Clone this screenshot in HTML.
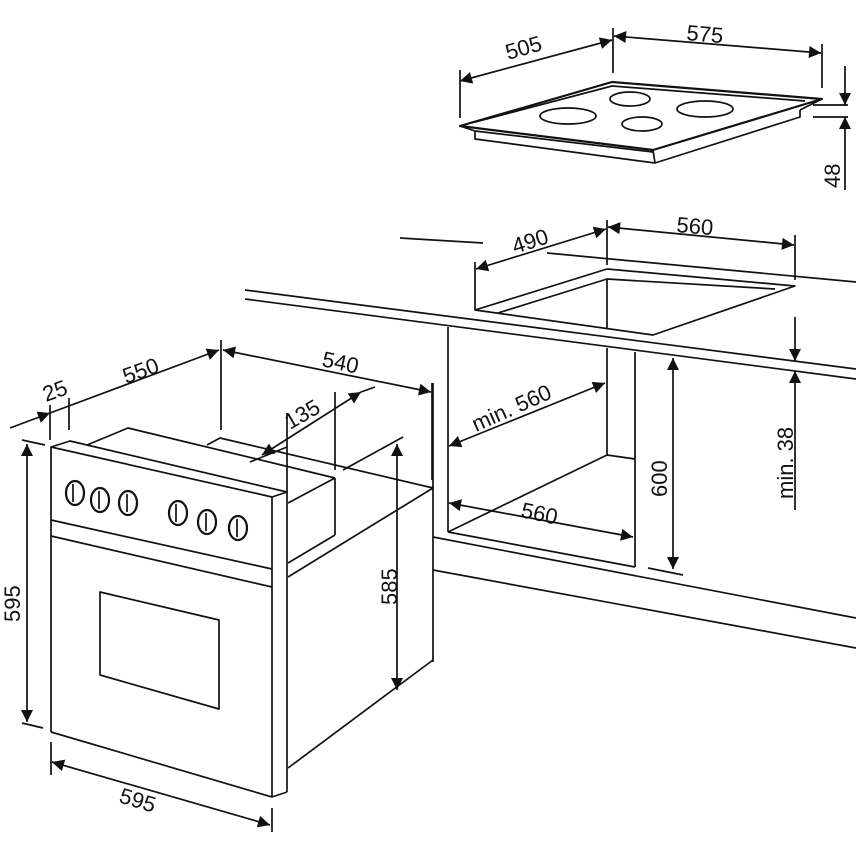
<!DOCTYPE html>
<html><head><meta charset="utf-8"><style>
html,body{margin:0;padding:0;background:#fff;width:856px;height:856px;overflow:hidden}
svg{display:block}
text{font-family:"Liberation Sans",sans-serif;font-size:22px;fill:#111}
</style></head><body>
<svg width="856" height="856" viewBox="0 0 856 856" xmlns="http://www.w3.org/2000/svg">
<defs>
<marker id="a" viewBox="0 0 10 10" refX="10" refY="5" markerWidth="22" markerHeight="12" markerUnits="userSpaceOnUse" orient="auto-start-reverse"><path d="M0,0L10,5L0,10z" fill="#111"/></marker>
</defs>
<g stroke="#111" stroke-width="1.7" fill="none" stroke-linejoin="round">
<!-- HOB -->
<polygon points="460,126 612,82 822,99 653,150" stroke-width="2.2"/>
<polyline points="475,122 612,86 805,101"/>
<line x1="460" y1="126" x2="475" y2="131"/>
<line x1="475" y1="131" x2="653" y2="152"/>
<line x1="653" y1="150" x2="655" y2="163"/>
<line x1="822" y1="99" x2="800" y2="110"/>
<polyline points="475,131 475,139 655,163 800,117 800,110"/>
<ellipse cx="568" cy="116" rx="28" ry="8"/>
<ellipse cx="630" cy="99" rx="20" ry="7"/>
<ellipse cx="705" cy="109" rx="28" ry="8"/>
<ellipse cx="642" cy="124" rx="20" ry="7"/>
<line x1="460" y1="70" x2="460" y2="118"/>
<line x1="613" y1="28" x2="613" y2="73"/>
<line x1="822" y1="44" x2="822" y2="88"/>
<line x1="460" y1="81" x2="612" y2="40" marker-start="url(#a)" marker-end="url(#a)"/>
<line x1="614" y1="36" x2="821" y2="53" marker-start="url(#a)" marker-end="url(#a)"/>
<line x1="813" y1="105" x2="848" y2="105"/>
<line x1="813" y1="117" x2="848" y2="117"/>
<line x1="845" y1="66" x2="845" y2="105" marker-end="url(#a)"/>
<line x1="845" y1="190" x2="845" y2="117" marker-end="url(#a)"/>
<!-- COUNTER -->
<line x1="245" y1="290" x2="856" y2="369"/>
<line x1="245" y1="299" x2="856" y2="379"/>
<line x1="547" y1="253" x2="856" y2="282"/>
<line x1="400" y1="238" x2="483" y2="243"/>
<polygon points="475,310 607,269 795,286 653,335"/>
<polyline points="498,313 607,279 775,289"/>
<line x1="607" y1="279" x2="607" y2="328"/>
<line x1="475" y1="262" x2="475" y2="310"/>
<line x1="607" y1="220" x2="607" y2="265"/>
<line x1="795" y1="235" x2="795" y2="280"/>
<line x1="476" y1="269" x2="606" y2="229" marker-start="url(#a)" marker-end="url(#a)"/>
<line x1="608" y1="227" x2="794" y2="245" marker-start="url(#a)" marker-end="url(#a)"/>
<!-- CABINET -->
<line x1="448" y1="327" x2="448" y2="532"/>
<line x1="607" y1="348" x2="607" y2="455"/>
<line x1="635" y1="352" x2="635" y2="567"/>
<line x1="448" y1="532" x2="635" y2="567"/>
<line x1="448" y1="532" x2="607" y2="455"/>
<line x1="607" y1="455" x2="635" y2="459"/>
<line x1="433" y1="537" x2="856" y2="618"/>
<line x1="433" y1="570" x2="856" y2="648"/>
<line x1="433" y1="383" x2="433" y2="662"/>
<line x1="449" y1="446" x2="605" y2="383" marker-start="url(#a)" marker-end="url(#a)"/>
<line x1="449" y1="503" x2="633" y2="537" marker-start="url(#a)" marker-end="url(#a)"/>
<line x1="673" y1="358" x2="673" y2="569" marker-start="url(#a)" marker-end="url(#a)"/>
<line x1="648" y1="568" x2="683" y2="575"/>
<line x1="795" y1="317" x2="795" y2="361" marker-end="url(#a)"/>
<line x1="795" y1="510" x2="795" y2="371" marker-end="url(#a)"/>
<!-- OVEN -->
<polygon points="51,447 70,441 287,492 272,497"/>
<line x1="51" y1="447" x2="51" y2="732"/>
<line x1="272" y1="497" x2="272" y2="797"/>
<line x1="287" y1="492" x2="287" y2="792"/>
<line x1="51" y1="732" x2="272" y2="797"/>
<line x1="272" y1="797" x2="287" y2="792"/>
<line x1="51" y1="520" x2="272" y2="569"/>
<line x1="51" y1="536" x2="272" y2="587"/>
<polygon points="100,592 219,620 219,709 100,675"/>
<g stroke-width="2.2">
<ellipse cx="75" cy="493" rx="9" ry="12"/><ellipse cx="100" cy="500" rx="9" ry="12"/><ellipse cx="128" cy="503" rx="9" ry="12"/>
<ellipse cx="178" cy="513" rx="9" ry="12"/><ellipse cx="207" cy="522" rx="9" ry="12"/><ellipse cx="238" cy="528" rx="9" ry="12"/>
</g>
<line x1="73" y1="484" x2="73" y2="502"/><line x1="99" y1="491" x2="99" y2="509"/><line x1="127" y1="494" x2="127" y2="512"/>
<line x1="176" y1="504" x2="176" y2="522"/><line x1="206" y1="513" x2="206" y2="531"/><line x1="237" y1="519" x2="237" y2="537"/>
<polyline points="87,445 128,428 335,478"/>
<line x1="335" y1="478" x2="335" y2="535"/>
<line x1="288" y1="503" x2="335" y2="478"/>
<line x1="288" y1="563" x2="335" y2="535"/>
<polyline points="207,445 220,438 433,488"/>
<line x1="288" y1="577" x2="433" y2="488"/>
<line x1="288" y1="768" x2="433" y2="660"/>
<line x1="27" y1="444" x2="27" y2="722" marker-start="url(#a)" marker-end="url(#a)"/>
<line x1="22" y1="440" x2="45" y2="445"/>
<line x1="22" y1="723" x2="43" y2="728"/>
<line x1="52" y1="762" x2="270" y2="825" marker-start="url(#a)" marker-end="url(#a)"/>
<line x1="51" y1="742" x2="51" y2="775"/>
<line x1="272" y1="808" x2="272" y2="832"/>
<line x1="10" y1="428" x2="50" y2="413" marker-end="url(#a)"/>
<line x1="50" y1="413" x2="219" y2="350" marker-end="url(#a)"/>
<line x1="50" y1="405" x2="50" y2="440"/>
<line x1="69" y1="398" x2="69" y2="430"/>
<line x1="221" y1="340" x2="221" y2="430"/>
<line x1="223" y1="350" x2="431" y2="392" marker-start="url(#a)" marker-end="url(#a)"/>
<line x1="432" y1="383" x2="432" y2="480"/>
<line x1="250" y1="462" x2="287" y2="447" />
<line x1="262" y1="455" x2="361" y2="392" marker-start="url(#a)" marker-end="url(#a)"/>
<line x1="361" y1="392" x2="375" y2="387"/>
<line x1="287" y1="413" x2="287" y2="493"/>
<line x1="335" y1="392" x2="335" y2="470"/>
<line x1="397" y1="444" x2="397" y2="690" marker-start="url(#a)" marker-end="url(#a)"/>
<line x1="343" y1="470" x2="403" y2="437"/>
</g>
<text transform="translate(508,60) rotate(-16)">505</text>
<text transform="translate(686,40) rotate(5)">575</text>
<text transform="translate(840,188) rotate(-90)">48</text>
<text transform="translate(515,254) rotate(-18)">490</text>
<text transform="translate(676,232) rotate(5)">560</text>
<text transform="translate(476,432) rotate(-24)">min. 560</text>
<text transform="translate(520,517) rotate(12)">560</text>
<text transform="translate(667,497) rotate(-90)">600</text>
<text transform="translate(793,499) rotate(-90)">min. 38</text>
<text transform="translate(46,402) rotate(-20)">25</text>
<text transform="translate(126,384) rotate(-20)">550</text>
<text transform="translate(321,366) rotate(12)">540</text>
<text transform="translate(290,430) rotate(-30)">135</text>
<text transform="translate(397,605) rotate(-90)">585</text>
<text transform="translate(20,622) rotate(-90)">595</text>
<text transform="translate(118,802) rotate(17)">595</text>
</svg>
</body></html>
